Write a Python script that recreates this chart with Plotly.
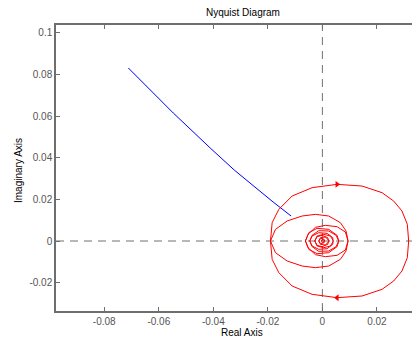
import plotly.graph_objects as go

# ---- data ----
# blue system (positive-frequency branch only visible)
blue_re = [-0.07117, -0.05469, -0.04114, -0.03234, -0.01806, -0.01147]
blue_im = [0.08305, 0.06145, 0.04465, 0.03409, 0.01872, 0.01200]

# red system, positive-frequency branch (from w=0 spiralling into origin)
red_re = [0.03164, 0.03115, 0.02919, 0.02614, 0.02187, 0.01454, 0.00538, -0.00377,
          -0.01110, -0.01598, -0.01842, -0.01904,
          -0.01720, -0.01293, -0.00744, -0.00255, 0.00233, 0.00660, 0.00868, 0.00941,
          0.00844, 0.00538, 0.00111, -0.00255, -0.00524, -0.00622,
          -0.00499, -0.00194, 0.00233, 0.00538, 0.00600,
          0.00502, 0.00233, -0.00133, -0.00377, -0.00463,
          -0.00377, -0.00133, 0.00172, 0.00380, 0.00392,
          0.00294, 0.00050, -0.00194, -0.00280,
          -0.00194, -0.00011, 0.00197, 0.00233,
          0.00111, -0.00072, -0.00133, -0.00060, 0.00062, 0.00074, 0.00001, -0.00036, 0.0]
red_im = [0.0, -0.0080, -0.0144, -0.0192, -0.0232, -0.0264, -0.0272, -0.0256,
          -0.0216, -0.0152, -0.0088, 0.0,
          0.0056, 0.0096, 0.0120, 0.0128, 0.0120, 0.0088, 0.0048, 0.0,
          -0.00432, -0.00688, -0.00752, -0.00656, -0.0032, 0.0,
          0.0040, 0.00608, 0.0056, 0.00272, 0.0,
          -0.00272, -0.0048, -0.00496, -0.00272, 0.0,
          0.0024, 0.0040, 0.00368, 0.0016, -0.00032,
          -0.0024, -0.0032, -0.0024, 0.0,
          0.00208, 0.00272, 0.0016, -0.00032,
          -0.00192, -0.0016, 0.0, 0.00128, 0.0008, -0.00032, -0.0008, -0.00016, 0.0]
arrow_index = 6  # sample carrying the direction arrows

x_ticks = [-0.08, -0.06, -0.04, -0.02, 0, 0.02]
x_ticklabels = ["-0.08", "-0.06", "-0.04", "-0.02", "0", "0.02"]
y_ticks = [-0.02, 0, 0.02, 0.04, 0.06, 0.08, 0.1]
y_ticklabels = ["-0.02", "0", "0.02", "0.04", "0.06", "0.08", "0.1"]

title_text = "Nyquist Diagram"
xlabel_text = "Real Axis"
ylabel_text = "Imaginary Axis"

# negative-frequency branch = complex conjugate of positive one
neg_re = red_re[::-1]
neg_im = [-v for v in red_im[::-1]]
full_re = neg_re + red_re
full_im = neg_im + red_im

font_fam = "Liberation Sans, Arial, Helvetica, sans-serif"
axis_col = "#6e6e6e"

fig = go.Figure()
fig.add_trace(go.Scatter(x=blue_re, y=blue_im, mode="lines",
                         line=dict(color="#0000ff", width=1), hoverinfo="skip"))
fig.add_trace(go.Scatter(x=full_re, y=full_im, mode="lines",
                         line=dict(color="#ff0000", width=1), hoverinfo="skip"))
fig.add_trace(go.Scatter(x=[red_re[arrow_index]], y=[red_im[arrow_index]], mode="markers",
                         marker=dict(symbol="triangle-left", size=6, color="#ff0000",
                                     line=dict(width=0)), hoverinfo="skip"))
fig.add_trace(go.Scatter(x=[red_re[arrow_index]], y=[-red_im[arrow_index]], mode="markers",
                         marker=dict(symbol="triangle-right", size=6, color="#ff0000",
                                     line=dict(width=0)), hoverinfo="skip"))

dash_line = dict(color="#707070", width=1, dash="8px,6px")
fig.add_shape(type="line", xref="x", yref="paper", x0=0, x1=0, y0=0, y1=1,
              line=dash_line, layer="below")
fig.add_shape(type="line", xref="paper", yref="y", x0=0, x1=1, y0=0, y1=0,
              line=dash_line, layer="below")

axis_common = dict(showgrid=False, zeroline=False, showline=True, linecolor=axis_col,
                   linewidth=1.5, ticks="inside", ticklen=4, tickwidth=1, tickcolor=axis_col,
                   tickfont=dict(family=font_fam, size=10, color="#555555"))

fig.update_xaxes(range=[-0.0977, 0.0358], tickvals=x_ticks, ticktext=x_ticklabels,
                 mirror="ticks", **axis_common)
fig.update_yaxes(range=[-0.0336, 0.1037], tickvals=y_ticks, ticktext=y_ticklabels,
                 mirror=False, **axis_common)

# page body has an 8px default margin, so the figure is offset by (8, 8)
fig.update_layout(
    width=412, height=330,
    margin=dict(l=48, r=0, t=17, b=27, pad=0),
    paper_bgcolor="white", plot_bgcolor="white",
    showlegend=False,
    annotations=[
        dict(text=title_text, xref="paper", yref="paper", x=0.5137, y=1.042,
             xanchor="center", yanchor="middle", showarrow=False,
             font=dict(family=font_fam, size=10, color="black")),
        dict(text=xlabel_text, xref="paper", yref="paper", x=0.511, y=-0.0769,
             xanchor="center", yanchor="middle", showarrow=False,
             font=dict(family=font_fam, size=10, color="black")),
        dict(text=ylabel_text, xref="paper", yref="paper", x=-0.1044, y=0.493,
             xanchor="center", yanchor="middle", showarrow=False, textangle=-90,
             font=dict(family=font_fam, size=10, color="black")),
    ],
)

fig.write_html("out.html", config={"displayModeBar": False})
